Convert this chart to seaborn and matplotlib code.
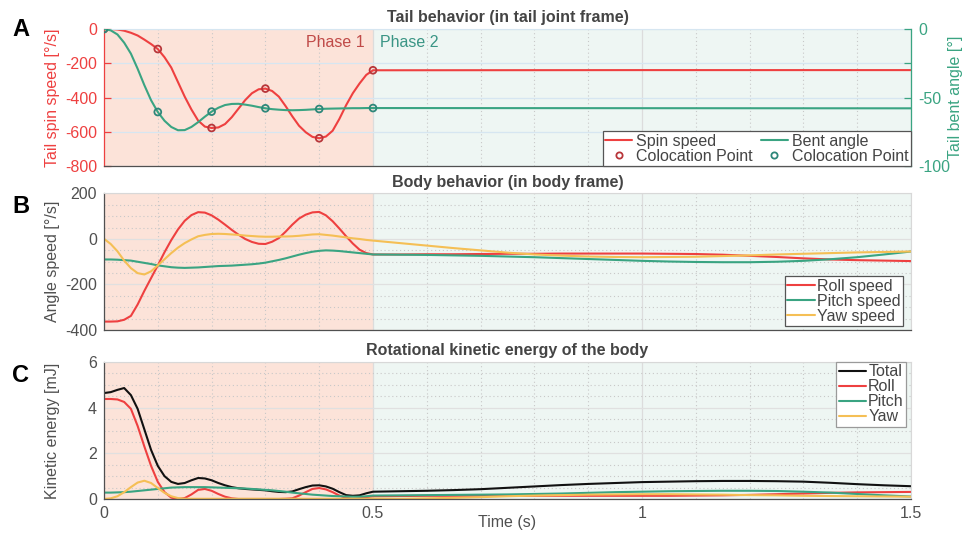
import numpy as np
import pandas as pd
import matplotlib
matplotlib.use("Agg")
import matplotlib.pyplot as plt
import seaborn as sns
from matplotlib.lines import Line2D
from matplotlib.ticker import MultipleLocator, FixedLocator

# ---------------- data ----------------
# sampling grids at which the curves were read
t_phase1 = list(np.round(np.linspace(0, 0.5, 41), 4))     # every 0.0125 s
t_phase2 = list(np.round(np.linspace(0.55, 1.5, 20), 4))  # every 0.05 s

# Panel A: tail behaviour
t_a = t_phase1 + [1.0, 1.5]
spin_speed = [0, 0, -3, -10, -22, -38, -62, -88, -117, -165, -225, -310, -395, -470,
              -535, -570, -578, -575, -555, -515, -465, -415, -375, -352, -348, -362,
              -395, -450, -510, -565, -603, -630, -638, -628, -594, -525, -445, -375,
              -318, -268, -241,
              -240, -240]
bent_angle = [0, -1, -4, -10, -18, -29, -41, -52, -60.6, -67, -71.5, -73.9, -73.8, -71.5,
              -68.0, -64, -60.3, -57.5, -55.5, -54.7, -54.6, -55.2, -56.0, -57.0, -57.9,
              -58.5, -58.9, -59.2, -59.3, -59.2, -59.0, -58.7, -58.4, -58.2, -58.1, -58.0,
              -57.9, -57.8, -57.8, -57.7, -57.7,
              -57.8, -57.9]
coloc_t = [0, 0.1, 0.2, 0.3, 0.4, 0.5]
coloc_spin = [0, -117, -578, -348, -638, -241]
coloc_bent = [0, -60.6, -60.3, -57.9, -58.4, -57.7]

# Panel B: body angular speeds
t_b = t_phase1 + t_phase2
roll_speed = [-363, -363, -362, -355, -338, -288, -228, -172, -116, -58, -5, 42, 80, 105,
              118, 116, 104, 85, 63, 40, 19, 0, -13, -21, -22, -12, 4, 32, 63, 90,
              107, 117, 119, 104, 78, 46, 12, -20, -47, -62, -68,
              -68, -67, -67, -66, -65, -65, -64, -64, -64, -64, -65, -66, -69, -74,
              -79, -85, -90, -93, -95, -97]
pitch_speed = [-90, -90, -91, -93, -95, -100, -105, -110, -116, -120, -124, -126, -127,
               -126, -125, -123, -121, -119, -118, -117, -115, -113, -111, -108, -104,
               -98, -92, -85, -77, -69, -62, -56, -52, -50, -51, -53, -56, -59, -62,
               -65, -68,
               -69, -70, -72, -74, -77, -80, -84, -88, -92, -96, -99, -101, -102, -102,
               -100, -96, -89, -80, -68, -55]
yaw_speed = [1, -22, -54, -95, -128, -150, -156, -142, -116, -89, -62, -38, -18, -2, 12,
             18, 22, 23, 22, 20, 18, 15, 13, 11, 10, 10, 11, 11, 12, 14, 17, 20, 21, 18,
             15, 11, 7, 3, 0, -4, -7,
             -18, -29, -40, -50, -60, -68, -73, -77, -79, -80, -79, -78, -75, -72,
             -68, -65, -62, -59, -57, -55]

# Panel C: rotational kinetic energy
t_c = t_phase1 + t_phase2
ke_total = [4.64, 4.68, 4.78, 4.86, 4.55, 3.95, 3.05, 2.15, 1.45, 1.00, 0.75, 0.66, 0.70,
            0.82, 0.92, 0.90, 0.82, 0.70, 0.60, 0.52, 0.47, 0.44, 0.42, 0.40, 0.38, 0.34,
            0.31, 0.30, 0.33, 0.43, 0.52, 0.59, 0.60, 0.55, 0.45, 0.30, 0.17, 0.14, 0.16,
            0.25, 0.32,
            0.34, 0.36, 0.39, 0.43, 0.49, 0.55, 0.61, 0.66, 0.70, 0.74, 0.76, 0.78, 0.79,
            0.79, 0.78, 0.76, 0.71, 0.65, 0.60, 0.56]
ke_roll = [4.38, 4.38, 4.36, 4.25, 3.95, 3.20, 2.30, 1.45, 0.75, 0.30, 0.06, 0.0, 0.04,
           0.20, 0.40, 0.44, 0.36, 0.22, 0.10, 0.03, 0.0, 0.0, 0.0, 0.0, 0.0, 0.0, 0.0,
           0.01, 0.03, 0.15, 0.30, 0.44, 0.48, 0.42, 0.30, 0.15, 0.05, 0.01, 0.03, 0.08,
           0.12,
           0.13, 0.14, 0.14, 0.14, 0.14, 0.14, 0.14, 0.14, 0.14, 0.14, 0.14, 0.15, 0.16,
           0.18, 0.21, 0.24, 0.27, 0.29, 0.30, 0.31]
ke_pitch = [0.28, 0.28, 0.29, 0.30, 0.32, 0.35, 0.38, 0.41, 0.44, 0.47, 0.50, 0.51, 0.52,
            0.52, 0.52, 0.52, 0.51, 0.50, 0.49, 0.48, 0.47, 0.46, 0.44, 0.42, 0.40, 0.38,
            0.35, 0.32, 0.28, 0.25, 0.22, 0.19, 0.17, 0.15, 0.13, 0.12, 0.11, 0.10, 0.10,
            0.12, 0.15,
            0.16, 0.17, 0.18, 0.19, 0.20, 0.22, 0.24, 0.27, 0.30, 0.32, 0.34, 0.35, 0.36,
            0.36, 0.35, 0.32, 0.28, 0.22, 0.16, 0.11]
ke_yaw = [0.0, 0.03, 0.12, 0.30, 0.52, 0.72, 0.80, 0.70, 0.48, 0.27, 0.12, 0.04, 0.01,
          0.01, 0.01, 0.01, 0.01, 0.01, 0.01, 0.01, 0.01, 0.01, 0.01, 0.01, 0.01, 0.01,
          0.01, 0.01, 0.01, 0.01, 0.01, 0.01, 0.01, 0.01, 0.01, 0.01, 0.01, 0.01, 0.01,
          0.01, 0.02,
          0.01, 0.03, 0.05, 0.08, 0.12, 0.15, 0.17, 0.19, 0.20, 0.21, 0.21, 0.20, 0.19,
          0.17, 0.16, 0.14, 0.13, 0.12, 0.11, 0.10]

x_ticks = [0, 0.5, 1, 1.5]
x_ticklabels = ["0", "0.5", "1", "1.5"]

# ---------------- style ----------------
sns.set_style("white")
plt.rcParams['font.family'] = ['Liberation Sans', 'DejaVu Sans']
plt.rcParams['axes.unicode_minus'] = False
FS = 11.5

RED = "#EE4040"
GREEN = "#3AA482"
YELLOW = "#F5BF55"
BLACK = "#111111"
RED_MK = "#B8363A"
GREEN_MK = "#2E877A"
P1 = "#FCE3D9"
P2 = "#EEF6F3"
GREY = "#505050"
TITLE_C = "#444444"

W, H = 966, 534
fig = plt.figure(figsize=(W / 100, H / 100), dpi=100)

def add_ax(top, bottom):
    return fig.add_axes([104 / W, 1 - bottom / H, 807 / W, (bottom - top) / H])

axA = add_ax(29, 166)
axB = add_ax(193.5, 330)
axC = add_ax(362, 499)

def base_style(ax, hgrid_color="#E0E0E0", yminor=None):
    ax.axvspan(0, 0.5, color=P1, zorder=0, lw=0)
    ax.axvspan(0.5, 1.5, color=P2, zorder=0, lw=0)
    ax.set_xlim(0, 1.5)
    ax.set_axisbelow(True)
    ax.xaxis.set_major_locator(FixedLocator(x_ticks))
    ax.xaxis.set_minor_locator(MultipleLocator(0.1))
    if yminor is not None:
        ax.yaxis.set_minor_locator(MultipleLocator(yminor))
    ax.xaxis.grid(True, which='major', color="#DCDCDC", lw=0.9)
    ax.xaxis.grid(True, which='minor', color="#C8C8C8", lw=0.8, ls=(0, (1, 2.5)))
    ax.yaxis.grid(True, which='major', color=hgrid_color, lw=0.9)
    if yminor is not None:
        ax.yaxis.grid(True, which='minor', color="#C8C8C8", lw=0.8, ls=(0, (1, 2.5)))
    ax.tick_params(which='major', direction='in', length=5, width=0.9,
                   labelsize=FS, colors=GREY, pad=5)
    ax.tick_params(which='minor', length=0)
    for s in ['left', 'bottom']:
        ax.spines[s].set_color(GREY)
        ax.spines[s].set_linewidth(0.9)
    for s in ['top', 'right']:
        ax.spines[s].set_color("#D8D8D8")
        ax.spines[s].set_linewidth(0.8)

def line(ax, x, y, color):
    sns.lineplot(x=x, y=y, ax=ax, color=color, lw=1.5, estimator=None,
                 sort=False, legend=False)

# ---------------- Panel A ----------------
base_style(axA, hgrid_color="#D6E6F1")
axA.set_ylim(-800, 0)
axA.set_yticks([-800, -600, -400, -200, 0])
axA.set_xticklabels([])
axA.tick_params(axis='y', colors=RED)
axA.spines['left'].set_color(RED)
axA.spines['top'].set_color("#D6E6F1")

line(axA, t_a, spin_speed, RED)
sns.scatterplot(x=coloc_t, y=coloc_spin, ax=axA, marker='o', s=24,
                facecolor='none', edgecolor=RED_MK, linewidth=1.3, legend=False, zorder=5)

axA2 = axA.twinx()
axA2.set_ylim(-100, 0)
axA2.set_yticks([-100, -75, -50, -25, 0])
axA2.set_yticklabels(["-100", "", "-50", "", "0"])
axA2.tick_params(axis='y', direction='in', length=5, width=0.9, labelsize=FS,
                 colors=GREEN, pad=5)
axA2.tick_params(which='minor', length=0)
for s in ['left', 'top', 'bottom']:
    axA2.spines[s].set_visible(False)
axA2.spines['right'].set_color(GREEN)
axA2.spines['right'].set_linewidth(0.9)
axA2.grid(False)
line(axA2, t_a, bent_angle, GREEN)
sns.scatterplot(x=coloc_t, y=coloc_bent, ax=axA2, marker='o', s=24,
                facecolor='none', edgecolor=GREEN_MK, linewidth=1.3, legend=False, zorder=5)
axA2.set_xlim(0, 1.5)

axA.set_ylabel("Tail spin speed [°/s]", fontsize=FS, color=RED)
axA.yaxis.set_label_coords(-0.0545, 0.5)
axA2.set_ylabel("Tail bent angle [°]", fontsize=FS, color=GREEN)
axA2.yaxis.set_label_coords(1.046, 0.5)
axA.set_title("Tail behavior (in tail joint frame)", fontsize=FS, fontweight='bold',
              color=TITLE_C, pad=5)
axA.text(0.485, -76, "Phase 1", color="#C04A48", fontsize=FS, ha='right', va='center')
axA.text(0.513, -76, "Phase 2", color="#3A9585", fontsize=FS, ha='left', va='center')

hA = [Line2D([], [], color=RED, lw=1.5),
      Line2D([], [], ls='none', marker='o', ms=4.5, mfc='none', mec=RED_MK, mew=1.3),
      Line2D([], [], color=GREEN, lw=1.5),
      Line2D([], [], ls='none', marker='o', ms=4.5, mfc='none', mec=GREEN_MK, mew=1.3)]
lA = ["Spin speed", "Colocation Point", "Bent angle", "Colocation Point"]
legA = axA2.legend(hA, lA, ncol=2, loc='lower right', borderaxespad=0, fontsize=FS,
                   frameon=True, fancybox=False, edgecolor="#555555", framealpha=1,
                   handlelength=1.7, handletextpad=0.25, columnspacing=0.5,
                   labelspacing=0.0, borderpad=0.15, labelcolor="#444444")
legA.get_frame().set_linewidth(0.9)

# ---------------- Panel B ----------------
base_style(axB, yminor=50)
axB.set_ylim(-400, 200)
axB.set_yticks([-400, -200, 0, 200])
axB.set_xticklabels([])
line(axB, t_b, roll_speed, RED)
line(axB, t_b, pitch_speed, GREEN)
line(axB, t_b, yaw_speed, YELLOW)
axB.set_ylabel("Angle speed [°/s]", fontsize=FS, color=GREY)
axB.yaxis.set_label_coords(-0.0545, 0.5)
axB.set_title("Body behavior (in body frame)", fontsize=FS, fontweight='bold',
              color=TITLE_C, pad=5)
hB = [Line2D([], [], color=c, lw=1.5) for c in (RED, GREEN, YELLOW)]
legB = axB.legend(hB, ["Roll speed", "Pitch speed", "Yaw speed"], loc='lower right',
                  bbox_to_anchor=(0.990, 0.029), borderaxespad=0, fontsize=FS,
                  frameon=True, fancybox=False, edgecolor="#555555", framealpha=1,
                  handlelength=1.7, handletextpad=0.15, labelspacing=0.0,
                  borderpad=0.15, labelcolor="#444444")
legB.get_frame().set_linewidth(0.9)

# ---------------- Panel C ----------------
base_style(axC, yminor=0.5)
axC.set_ylim(0, 6)
axC.set_yticks([0, 2, 4, 6])
axC.set_xticklabels(x_ticklabels)
line(axC, t_c, ke_total, BLACK)
line(axC, t_c, ke_roll, RED)
line(axC, t_c, ke_pitch, GREEN)
line(axC, t_c, ke_yaw, YELLOW)
axC.set_ylabel("Kinetic energy [mJ]", fontsize=FS, color=GREY)
axC.yaxis.set_label_coords(-0.0545, 0.5)
axC.set_xlabel("Time (s)", fontsize=FS, color=GREY)
axC.xaxis.set_label_coords(0.5, -0.115)
axC.set_title("Rotational kinetic energy of the body", fontsize=FS, fontweight='bold',
              color=TITLE_C, pad=5)
hC = [Line2D([], [], color=c, lw=1.5) for c in (BLACK, RED, GREEN, YELLOW)]
legC = axC.legend(hC, ["Total", "Roll", "Pitch", "Yaw"], loc='upper right',
                  bbox_to_anchor=(0.994, 1.0), borderaxespad=0, fontsize=FS,
                  frameon=True, fancybox=False, edgecolor="#9A9A9A", framealpha=1,
                  handlelength=1.7, handletextpad=0.15, labelspacing=0.0,
                  borderpad=0.15, labelcolor="#444444")
legC.get_frame().set_linewidth(0.9)

# panel letters
for letter, yc in (("A", 29), ("B", 206.5), ("C", 376)):
    fig.text(12 / W, 1 - yc / H, letter, fontsize=17, fontweight='bold',
             color="black", ha='left', va='center')

fig.savefig("out.png", dpi=100)
